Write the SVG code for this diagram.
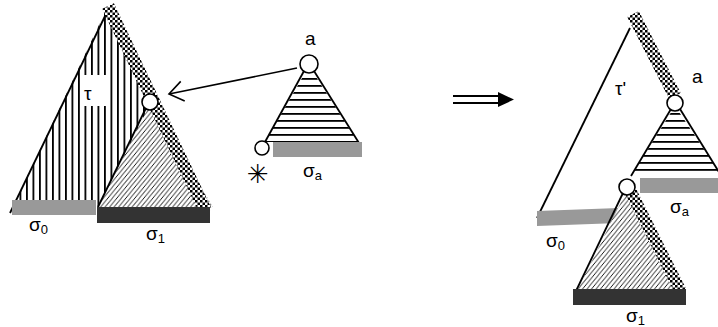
<svg xmlns="http://www.w3.org/2000/svg" width="718" height="327" viewBox="0 0 718 327">
<defs>
<style>
.edge{stroke:#000;stroke-width:1.8;fill:none}
.node{fill:#fff;stroke:#000;stroke-width:1.6}
.lbl{font-family:"Liberation Sans",Arial,sans-serif;font-size:19px;fill:#000}
.sub{font-size:13px}
.gray{fill:#999}
.dark{fill:#333}
.band{stroke:url(#checker);fill:none}
</style>
<pattern id="vstripe" patternUnits="userSpaceOnUse" width="6.5" height="10">
<rect x="0" y="0" width="1.8" height="10" fill="#000"/>
</pattern>
<pattern id="hstripe" patternUnits="userSpaceOnUse" width="10" height="7" y="1">
<rect x="0" y="0" width="10" height="7" fill="#fff"/>
<rect x="0" y="0" width="10" height="1.8" fill="#000"/>
</pattern>
<pattern id="diag" patternUnits="userSpaceOnUse" width="4.5" height="5.5">
<rect x="0" y="0" width="4.5" height="5.5" fill="#fff"/>
<path d="M -1 6.72 L 5.5 -1.22 M -5.5 6.72 L 1 -1.22 M 3.5 6.72 L 10 -1.22" stroke="#000" stroke-width="0.9" fill="none"/>
</pattern>
<pattern id="checker" patternUnits="userSpaceOnUse" width="5" height="5">
<rect x="0" y="0" width="5" height="5" fill="#fff"/>
<rect x="0" y="0" width="2.5" height="2.5" fill="#000"/>
<rect x="2.5" y="2.5" width="2.5" height="2.5" fill="#000"/>
</pattern>
<marker id="open" markerWidth="20" markerHeight="22" refX="15" refY="11" orient="auto" markerUnits="userSpaceOnUse">
<path d="M 1 1 L 15 11 L 1 21" fill="none" stroke="#000" stroke-width="1.6"/>
</marker>
</defs>

<g id="tree-tau">
<polygon points="106,10 10,213 205,213" fill="url(#vstripe)"/>
<rect x="81" y="75" width="26" height="31" fill="#fff"/>
<line class="edge" x1="106" y1="14" x2="10" y2="213"/>
<text class="lbl" x="84" y="100">τ</text>
</g>
<g id="subtree-sigma1-left">
<polygon points="150,104 98,207 213,207" fill="url(#diag)"/>
<line class="edge" x1="146" y1="108" x2="98" y2="207"/>
</g>
<g id="band-left">
<line class="band" x1="108" y1="6" x2="206" y2="212" stroke-width="13"/>
</g>
<g id="node-left-root1">
<circle class="node" cx="150" cy="102" r="8"/>
</g>
<g id="bar-sigma0-left">
<rect class="gray" x="12" y="200" width="84" height="15"/>
<text class="lbl" x="29" y="231">σ<tspan class="sub" dy="3">0</tspan></text>
</g>
<g id="bar-sigma1-left">
<rect class="dark" x="97" y="207" width="113" height="16"/>
<text class="lbl" x="146" y="240">σ<tspan class="sub" dy="3">1</tspan></text>
</g>

<g id="tree-a-left">
<polygon points="309,66 265,142 358,142" fill="url(#hstripe)"/>
<line class="edge" x1="304" y1="71" x2="265" y2="142"/>
<line class="edge" x1="314" y1="71" x2="359" y2="143"/>
<rect class="gray" x="273" y="142" width="89" height="15"/>
<circle class="node" cx="309" cy="64" r="9"/>
<circle class="node" cx="262" cy="148" r="7"/>
<text class="lbl" x="305" y="45">a</text>
<text class="lbl" x="303" y="177">σ<tspan class="sub" dy="3">a</tspan></text>
<text x="258" y="183" text-anchor="middle" fill="#000" style="font-family:'DejaVu Sans',sans-serif;font-size:26px">✳</text>
</g>

<g id="connectors">
<line x1="297" y1="68" x2="169" y2="94" stroke="#000" stroke-width="1.6" marker-end="url(#open)"/>
<line x1="453" y1="96" x2="500" y2="96" stroke="#000" stroke-width="2"/>
<line x1="453" y1="103" x2="500" y2="103" stroke="#000" stroke-width="2"/>
<polygon points="498,92 514,99.5 498,107" fill="#000"/>
</g>

<g id="tree-tau-prime">
<line class="edge" x1="630" y1="28" x2="537" y2="218"/>
<line class="band" x1="633" y1="14" x2="675" y2="96" stroke-width="13"/>
<text class="lbl" x="615" y="95">τ'</text>
</g>
<g id="tree-a-right">
<polygon points="675,106 631,176 722,176" fill="url(#hstripe)"/>
<line class="edge" x1="671" y1="109" x2="631" y2="176"/>
<line class="edge" x1="680" y1="109" x2="722" y2="177"/>
<rect class="gray" x="640" y="178" width="78" height="15"/>
<circle class="node" cx="675" cy="103" r="8"/>
<text class="lbl" x="692" y="83">a</text>
<text class="lbl" x="670" y="213">σ<tspan class="sub" dy="3">a</tspan></text>
</g>
<g id="bar-sigma0-right">
<polygon class="gray" points="537,211 619,208 619,223 537,226"/>
<text class="lbl" x="546" y="247">σ<tspan class="sub" dy="3">0</tspan></text>
</g>
<g id="subtree-sigma1-right">
<polygon points="627,190 577,291 687,291" fill="url(#diag)"/>
<line class="edge" x1="623" y1="193" x2="576" y2="291"/>
<line class="band" x1="630" y1="190" x2="681" y2="292" stroke-width="12"/>
<circle class="node" cx="627" cy="187" r="8"/>
<rect class="dark" x="573" y="289" width="113" height="16"/>
<text class="lbl" x="626" y="322">σ<tspan class="sub" dy="3">1</tspan></text>
</g>
</svg>
